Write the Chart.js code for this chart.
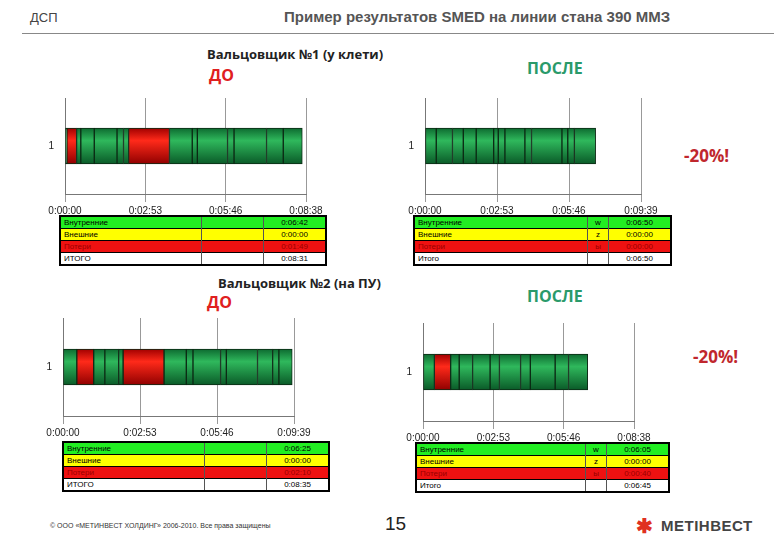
<!DOCTYPE html>
<html><head><meta charset="utf-8">
<script src="https://cdn.jsdelivr.net/npm/chart.js@4.4.0/dist/chart.umd.min.js"></script>
<style>
body{margin:0;width:780px;height:540px;background:#fff;position:relative;font-family:"Liberation Sans",Arial,sans-serif;overflow:hidden}
.a{position:absolute;white-space:nowrap}
canvas{position:absolute}
table{position:absolute;border-collapse:collapse;border:2px solid #000;font-family:"Liberation Sans Narrow","Liberation Sans",Arial;font-size:8px}
td{padding:0 3px;height:11px;border-top:1px solid #000;line-height:11px}
td.v{text-align:center;border-left:1px solid #555;width:55px}
td.m{text-align:center;border-left:1px solid #555;width:14px}
</style></head><body>
<div class="a" style="left:30px;top:10px;font-size:13px;color:#444">ДСП</div>
<div class="a" style="left:284px;top:8px;font-size:15px;font-weight:bold;color:#555">Пример результатов SMED на линии стана 390 ММЗ</div>
<div class="a" style="left:22px;top:33px;width:752px;height:1px;background:#888"></div>
<div class="a" style="left:207px;top:45px;font-size:13px;font-weight:bold;color:#222;font-family:'Open Sans'">Вальцовщик №1 (у клети)</div>
<div class="a" style="left:209px;top:64px;font-size:16px;font-weight:bold;color:#e02020;font-family:'Open Sans'">ДО</div>
<div class="a" style="left:527px;top:57px;font-size:16px;font-weight:bold;color:#2a9a6a;font-family:'Open Sans'">ПОСЛЕ</div>
<div class="a" style="left:684px;top:144px;font-size:17px;font-weight:bold;color:#c0272d;font-family:'Open Sans'">-20%!</div>
<div class="a" style="left:218px;top:274px;font-size:13px;font-weight:bold;color:#222;font-family:'Open Sans'">Вальцовщик №2 (на ПУ)</div>
<div class="a" style="left:207px;top:291px;font-size:16px;font-weight:bold;color:#e02020;font-family:'Open Sans'">ДО</div>
<div class="a" style="left:527px;top:285px;font-size:16px;font-weight:bold;color:#2a9a6a;font-family:'Open Sans'">ПОСЛЕ</div>
<div class="a" style="left:693px;top:345px;font-size:17px;font-weight:bold;color:#c0272d;font-family:'Open Sans'">-20%!</div>
<div class="a" style="left:50px;top:522px;font-size:7px;color:#333">© ООО «МЕТИНВЕСТ ХОЛДИНГ» 2006-2010. Все права защищены</div>
<div class="a" style="left:385px;top:513px;font-size:19px;color:#222">15</div>
<div class="a" style="left:636px;top:514px;font-size:20px;color:#e03020;font-weight:bold">✱</div>
<div class="a" style="left:661px;top:517px;font-size:15px;font-weight:bold;color:#444;letter-spacing:0.5px">МЕТІНВЕСТ</div>

<canvas id="c1" style="left:30px;top:80px;width:300px;height:140px" width="300" height="140"></canvas>
<canvas id="c2" style="left:390px;top:80px;width:275px;height:140px" width="275" height="140"></canvas>
<canvas id="c3" style="left:28px;top:300px;width:290px;height:142px" width="290" height="142"></canvas>
<canvas id="c4" style="left:388px;top:305px;width:270px;height:142px" width="270" height="142"></canvas>

<table style="left:59px;top:215px;width:268px"><tr style="background:#22ee22"><td>Внутренние</td><td class="v"></td><td class="v">0:06:42</td></tr><tr style="background:#ffff00"><td>Внешние</td><td class="v"></td><td class="v">0:00:00</td></tr><tr style="background:#ee1111;color:#900"><td>Потери</td><td class="v"></td><td class="v">0:01:49</td></tr><tr style="background:#fff"><td>ИТОГО</td><td class="v"></td><td class="v">0:08:31</td></tr></table>
<table style="left:413px;top:215px;width:259px"><tr style="background:#22ee22"><td>Внутренние</td><td class="m">w</td><td class="v">0:06:50</td></tr><tr style="background:#ffff00"><td>Внешние</td><td class="m">z</td><td class="v">0:00:00</td></tr><tr style="background:#ee1111;color:#900"><td>Потери</td><td class="m">ы</td><td class="v">0:00:00</td></tr><tr style="background:#fff"><td>Итого</td><td class="m"></td><td class="v">0:06:50</td></tr></table>
<table style="left:62px;top:441px;width:268px"><tr style="background:#22ee22"><td>Внутренние</td><td class="v"></td><td class="v">0:06:25</td></tr><tr style="background:#ffff00"><td>Внешние</td><td class="v"></td><td class="v">0:00:00</td></tr><tr style="background:#ee1111;color:#900"><td>Потери</td><td class="v"></td><td class="v">0:02:10</td></tr><tr style="background:#fff"><td>ИТОГО</td><td class="v"></td><td class="v">0:08:35</td></tr></table>
<table style="left:415px;top:442px;width:255px"><tr style="background:#22ee22"><td>Внутренние</td><td class="m">w</td><td class="v">0:06:05</td></tr><tr style="background:#ffff00"><td>Внешние</td><td class="m">z</td><td class="v">0:00:00</td></tr><tr style="background:#ee1111;color:#900"><td>Потери</td><td class="m">ы</td><td class="v">0:00:40</td></tr><tr style="background:#fff"><td>Итого</td><td class="m"></td><td class="v">0:06:45</td></tr></table>

<script>
// segment durations (seconds) and types: g = work, r = loss
const c1Dur=[4,21,9,29,49,14,11,88,49,11,65,14,70,36,41];
const c1Typ=['g','r','g','g','g','g','g','r','g','g','g','g','g','g','g'];
const c2Dur=[27,39,26,31,42,11,16,48,16,73,14,16,51];
const c2Typ=['g','g','g','g','g','g','g','g','g','g','g','g','g'];
const c3Dur=[31,38,25,31,10,92,50,15,62,13,70,34,14,30];
const c3Typ=['g','r','g','g','g','r','g','g','g','g','g','g','g','g'];
const c4Dur=[28,40,21,33,43,23,52,24,61,33,47];
const c4Typ=['g','r','g','g','g','g','g','g','g','g','g'];
const c1Ticks=['0:00:00','0:02:53','0:05:46','0:08:38'];
const c2Ticks=['0:00:00','0:02:53','0:05:46','0:09:39'];
const c3Ticks=['0:00:00','0:02:53','0:05:46','0:09:39'];
const c4Ticks=['0:00:00','0:02:53','0:05:46','0:08:38'];
const categories=['1'];

const cols={g:['#0d6a30','#2fb85c','#0a5a28'],r:['#a00000','#ff2a1a','#900000']};
function fill(t){return function(ctx){
  const ch=ctx.chart,a=ch.chartArea;
  if(!a)return cols[t][1];
  const yc=ch.scales.y.getPixelForValue(0);
  const g=ch.ctx.createLinearGradient(0,yc-18,0,yc+18);
  g.addColorStop(0,cols[t][0]);g.addColorStop(0.35,cols[t][1]);g.addColorStop(1,cols[t][2]);
  return g;};}
function make(id,dur,typ,ticks,yw){
  new Chart(document.getElementById(id),{type:'bar',
    data:{labels:categories,datasets:dur.map((d,i)=>({data:[d],backgroundColor:fill(typ[i]),borderColor:'#0b2a14',borderWidth:1,borderSkipped:false,barThickness:36}))},
    options:{indexAxis:'y',responsive:false,animation:false,
      layout:{padding:{right:24,top:18}},
      plugins:{legend:{display:false},tooltip:{enabled:false}},
      scales:{
        x:{stacked:true,min:0,max:519,afterBuildTicks:s=>{s.ticks=[0,173,346,519].map(v=>({value:v}));},
           ticks:{callback:(v,i)=>ticks[i],color:'#222',font:{size:10},maxRotation:0,autoSkip:false},
           grid:{color:'#999',drawTicks:true},border:{color:'#777'}},
        y:{stacked:true,afterFit:s=>{s.width=yw;},ticks:{color:'#222',font:{size:10}},grid:{display:false},border:{color:'#777'}}
      }}});
}
make('c1',c1Dur,c1Typ,c1Ticks,35);
make('c2',c2Dur,c2Typ,c2Ticks,35);
make('c3',c3Dur,c3Typ,c3Ticks,35);
make('c4',c4Dur,c4Typ,c4Ticks,35);
</script>
</body></html>
